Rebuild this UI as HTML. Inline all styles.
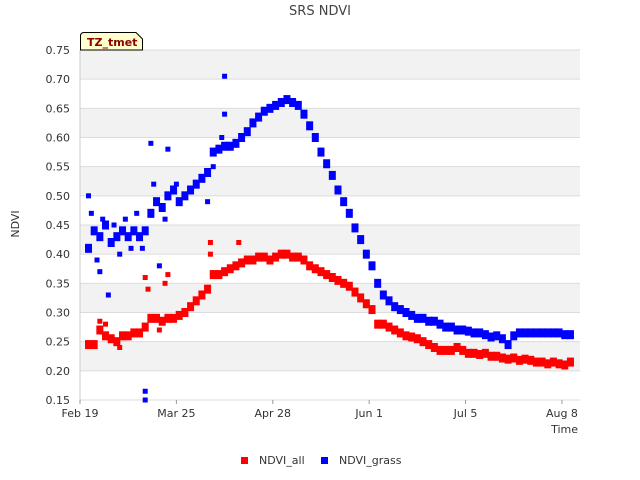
<!DOCTYPE html>
<html><head><meta charset="utf-8"><style>
body{margin:0;background:#fff;font-family:"Liberation Sans",sans-serif;}
svg{display:block}
text{font-family:"DejaVu Sans","Liberation Sans",sans-serif;}
</style></head><body>
<svg id="chart" width="640" height="480">
<text x="320" y="15" text-anchor="middle" font-size="13" fill="#444">SRS NDVI</text>
<g id="bands"></g>
<g id="grid"></g>
<g id="yticks" font-size="11" fill="#333"></g>
<g id="xticks" font-size="11" fill="#333"></g>
<text transform="translate(19,224) rotate(-90)" text-anchor="middle" font-size="11" fill="#333">NDVI</text>
<text x="578" y="433" text-anchor="end" font-size="11" fill="#333">Time</text>
<g id="marks"></g>
<g>
<path d="M80.5,50 L80.5,36 Q80.5,32.5 84,32.5 L136,32.5 L142.5,39 L142.5,50 Z" fill="#ffffcc" stroke="#000" stroke-width="1"/>
<text x="87" y="46" font-size="11" font-weight="bold" fill="#8b0000">TZ_tmet</text>
</g>
<g font-size="11" fill="#333">
<g><rect x="241" y="457" width="7" height="7" fill="#ff0000"/><text x="259" y="464">NDVI_all</text></g>
<g><rect x="321" y="457" width="7" height="7" fill="#0000ff"/><text x="339" y="464">NDVI_grass</text></g>
</g>
</svg>
<script>
const days=[3,5,7,9,11,13,15,17,19,21,23,25,27,29,31,33,35,37,39,41,43,45,47,49,51,53,55,57,59,61,63,65,67,69,71,73,75,77,79,81,83,85,87,89,91,93,95,97,99,101,103,105,107,109,111,113,115,117,119,121,123,125,127,129,131,133,135,137,139,141,143,145,147,149,151,153,155,157,159,161,163,165,167,169,171,173];
const ndviAll=[0.245,0.245,0.27,0.26,0.255,0.25,0.26,0.26,0.265,0.265,0.275,0.29,0.29,0.285,0.29,0.29,0.295,0.30,0.31,0.32,0.33,0.34,0.365,0.365,0.37,0.375,0.38,0.385,0.39,0.39,0.395,0.395,0.39,0.395,0.40,0.40,0.395,0.395,0.39,0.38,0.375,0.37,0.365,0.36,0.355,0.35,0.345,0.335,0.325,0.315,0.305,0.28,0.28,0.275,0.27,0.265,0.26,0.258,0.255,0.25,0.245,0.24,0.235,0.235,0.235,0.24,0.235,0.23,0.23,0.228,0.23,0.225,0.225,0.222,0.22,0.222,0.218,0.22,0.218,0.215,0.215,0.212,0.215,0.212,0.21,0.215];
const ndviGrass=[0.41,0.44,0.43,0.45,0.42,0.43,0.44,0.43,0.44,0.43,0.44,0.47,0.49,0.48,0.50,0.51,0.49,0.50,0.51,0.52,0.53,0.54,0.575,0.58,0.585,0.585,0.59,0.60,0.61,0.625,0.635,0.645,0.65,0.655,0.66,0.665,0.66,0.655,0.64,0.62,0.60,0.575,0.555,0.535,0.51,0.49,0.47,0.445,0.425,0.40,0.38,0.35,0.33,0.32,0.31,0.305,0.30,0.295,0.29,0.29,0.285,0.285,0.28,0.275,0.275,0.27,0.27,0.268,0.265,0.265,0.262,0.258,0.26,0.255,0.245,0.26,0.265,0.265,0.265,0.265,0.265,0.265,0.265,0.265,0.262,0.262];
const grassExtraDays=[25,31,51,51,50,23,23,28,10,3,7,4,6,8,12,14,16,18,20,22,26,30,34,45,47];
const grassExtraVals=[0.59,0.58,0.705,0.64,0.60,0.165,0.15,0.38,0.33,0.50,0.37,0.47,0.39,0.46,0.45,0.40,0.46,0.41,0.47,0.41,0.52,0.46,0.52,0.49,0.55];
const allExtraDays=[23,31,46,46,56,28,7,9,14,24,30];
const allExtraVals=[0.36,0.365,0.42,0.40,0.42,0.27,0.285,0.28,0.24,0.34,0.35];
const yTicks=[0.15,0.20,0.25,0.30,0.35,0.40,0.45,0.50,0.55,0.60,0.65,0.70,0.75];
const xTickDays=[0,34,68,102,136,170];
const xTickLabels=["Feb 19","Mar 25","Apr 28","Jun 1","Jul 5","Aug 8"];
const X0=80,X1=580,Y0=400,Y1=50;
const xs=d=>X0+d*2.835;
const ys=v=>Y0-(v-0.15)/(0.60)*(Y0-Y1);
const NS="http://www.w3.org/2000/svg";
function mk(tag,parent,attrs){const e=document.createElementNS(NS,tag);for(const k in attrs)e.setAttribute(k,attrs[k]);parent.appendChild(e);return e;}
const bands=document.getElementById('bands'),grid=document.getElementById('grid');
const yt=document.getElementById('yticks'),xt=document.getElementById('xticks'),marks=document.getElementById('marks');
mk('rect',bands,{x:X0,y:Y1,width:X1-X0,height:Y0-Y1,fill:'#fff'});
for(let i=0;i<yTicks.length-1;i++){
  if(i%2===1){const r=mk('rect',bands,{x:X0,y:ys(yTicks[i+1]),width:X1-X0,height:ys(yTicks[i])-ys(yTicks[i+1]),fill:'#f2f2f2'});
  
  }
}
yTicks.forEach(v=>{
  const l=mk('line',grid,{x1:X0,x2:X1,y1:ys(v),y2:ys(v),stroke:'#dcdcdc','stroke-width':1});
  
  
  const t=mk('text',yt,{x:X0-10,y:ys(v)+4,'text-anchor':'end'});t.textContent=v.toFixed(2);
  
  
});
mk('line',grid,{x1:X0,x2:X0,y1:Y1,y2:Y0,stroke:'#ccc'});
xTickDays.forEach((d,i)=>{
  mk('line',grid,{x1:xs(d),x2:xs(d),y1:Y0,y2:Y0+4,stroke:'#999'});
  const t=mk('text',xt,{x:xs(d),y:Y0+17,'text-anchor':'middle'});t.textContent=xTickLabels[i];
  
  
});
function pts(dd,vv,color,name,w,h){
  dd.forEach((d,i)=>{
    const r=mk('rect',marks,{x:xs(d)-w/2,y:ys(vv[i])-h/2,width:w,height:h,fill:color});
    
    
  });
}
pts(days,ndviAll,'#ff0000','ndvi-all-point',7,9);
pts(allExtraDays,allExtraVals,'#ff0000','ndvi-all-point',5,5);
pts(days,ndviGrass,'#0000ff','ndvi-grass-point',7,9);
pts(grassExtraDays,grassExtraVals,'#0000ff','ndvi-grass-point',5,5);
</script>
</body></html>
